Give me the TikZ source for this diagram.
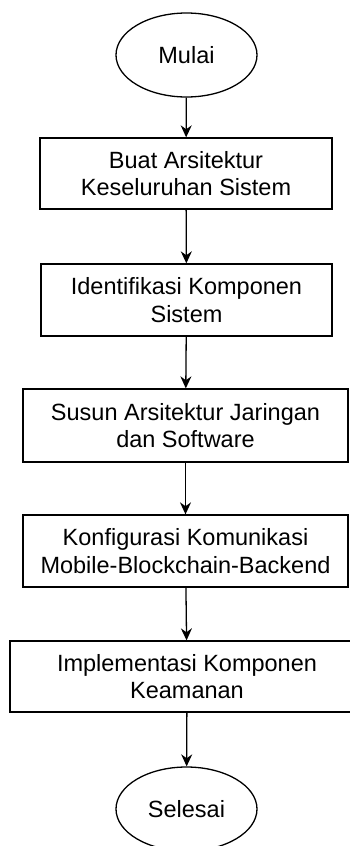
\documentclass[tikz,border=0pt]{standalone}
\usepackage{fontspec}
\setmainfont{Liberation Sans}
\usetikzlibrary{shapes.geometric,arrows.meta}

\tikzset{
    proses/.style = {draw, rectangle, line width=1.3pt, align=center,
        inner sep=0pt, font=\fontsize{23.5}{27.5}\selectfont},
    terminal/.style = {draw, ellipse, line width=1.3pt, inner sep=0pt,
        minimum width=141pt, minimum height=84pt,
        font=\fontsize{23.5}{27.5}\selectfont},
    panah/.style = {-{Stealth[length=12pt,width=11pt]}, line width=1.3pt}
}

\begin{document}
\begin{tikzpicture}[x=1pt,y=-1pt]
    \useasboundingbox (0,0) rectangle (349,846);
    \node[terminal] (mulai) at (186.5,55) {Mulai};
    \node[proses, minimum width=292pt, minimum height=71pt] (arsitektur) at (186,173.5)
        {Buat Arsitektur\\Keseluruhan Sistem};
    \node[proses, minimum width=291pt, minimum height=72pt] (identifikasi) at (186.5,300)
        {Identifikasi Komponen\\Sistem};
    \node[proses, minimum width=325pt, minimum height=73pt] (susun) at (185.5,425.5)
        {Susun Arsitektur Jaringan\\dan Software};
    \node[proses, minimum width=325pt, minimum height=72pt] (konfigurasi) at (185.5,551)
        {Konfigurasi Komunikasi\\Mobile-Blockchain-Backend};
    \node[proses, minimum width=354pt, minimum height=71pt] (implementasi) at (187,676.5)
        {Implementasi Komponen\\Keamanan};
    \node[terminal] (selesai) at (186.5,809) {Selesai};
    % alur
    \draw[panah] (mulai) -- (arsitektur);
    \draw[panah] (arsitektur) -- (identifikasi);
    \draw[panah] (identifikasi) -- (susun);
    \draw[panah] (susun) -- (konfigurasi);
    \draw[panah] (konfigurasi) -- (implementasi);
    \draw[panah] (implementasi) -- (selesai);
\end{tikzpicture}
\end{document}
